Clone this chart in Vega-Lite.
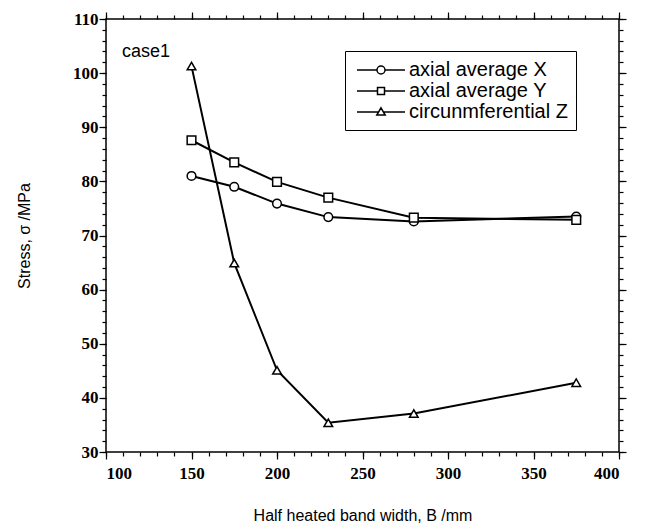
{
  "$schema": "https://vega.github.io/schema/vega-lite/v6.json",
  "width": 513,
  "height": 433,
  "autosize": {"type": "none"},
  "padding": {"left": 106, "top": 19, "right": 28, "bottom": 75},
  "background": "white",
  "config": {
    "view": {"stroke": "black", "strokeWidth": 1.5},
    "font": "Liberation Sans",
    "axis": {
      "domain": false,
      "ticks": true,
      "tickColor": "black",
      "tickWidth": 1.2,
      "grid": false,
      "labelColor": "black",
      "titleColor": "black",
      "labelFont": "Liberation Sans Narrow",
      "labelFontWeight": "bold",
      "labelFontSize": 17,
      "labelOverlap": false,
      "titleFont": "Liberation Sans",
      "titleFontWeight": "normal",
      "titleFontSize": 16
    }
  },
  "data": {
    "values": [
      {"B": 150, "stress": 81.0, "series": "axial average X"},
      {"B": 175, "stress": 79.0, "series": "axial average X"},
      {"B": 200, "stress": 75.9, "series": "axial average X"},
      {"B": 230, "stress": 73.4, "series": "axial average X"},
      {"B": 280, "stress": 72.6, "series": "axial average X"},
      {"B": 375, "stress": 73.5, "series": "axial average X"},
      {"B": 150, "stress": 87.6, "series": "axial average Y"},
      {"B": 175, "stress": 83.5, "series": "axial average Y"},
      {"B": 200, "stress": 79.9, "series": "axial average Y"},
      {"B": 230, "stress": 77.0, "series": "axial average Y"},
      {"B": 280, "stress": 73.3, "series": "axial average Y"},
      {"B": 375, "stress": 72.9, "series": "axial average Y"},
      {"B": 150, "stress": 101.3, "series": "circunmferential Z"},
      {"B": 175, "stress": 64.9, "series": "circunmferential Z"},
      {"B": 200, "stress": 45.1, "series": "circunmferential Z"},
      {"B": 230, "stress": 35.4, "series": "circunmferential Z"},
      {"B": 280, "stress": 37.1, "series": "circunmferential Z"},
      {"B": 375, "stress": 42.8, "series": "circunmferential Z"}
    ]
  },
  "layer": [
    {
      "mark": {"type": "line", "color": "black", "strokeWidth": 2},
      "encoding": {
        "x": {
          "field": "B", "type": "quantitative",
          "scale": {"domain": [100, 400], "nice": false, "zero": false},
          "axis": {
            "orient": "bottom",
            "values": [100, 150, 200, 250, 300, 350, 400],
            "tickSize": 7,
            "labelPadding": 6,
            "title": "Half heated band width, B /mm",
            "titlePadding": 26
          }
        },
        "y": {
          "field": "stress", "type": "quantitative",
          "scale": {"domain": [30, 110], "nice": false, "zero": false},
          "axis": {
            "orient": "left",
            "values": [30, 40, 50, 60, 70, 80, 90, 100, 110],
            "tickSize": 7,
            "labelPadding": 1,
            "title": "Stress, σ /MPa",
            "titlePadding": 40
          }
        },
        "detail": {"field": "series"}
      }
    },
    {
      "mark": {"type": "point", "filled": true, "fill": "white", "stroke": "black", "strokeWidth": 1.5, "opacity": 1, "size": 75},
      "encoding": {
        "x": {
          "field": "B", "type": "quantitative",
          "axis": {"orient": "top", "values": [100, 150, 200, 250, 300, 350, 400], "tickSize": 7, "labels": false, "title": null}
        },
        "y": {
          "field": "stress", "type": "quantitative",
          "axis": {"orient": "right", "values": [30, 40, 50, 60, 70, 80, 90, 100, 110], "tickSize": 7, "labels": false, "title": null}
        },
        "shape": {
          "field": "series", "type": "nominal",
          "scale": {"domain": ["axial average X", "axial average Y", "circunmferential Z"], "range": ["circle", "square", "triangle-up"]},
          "legend": null
        }
      }
    },
    {
      "data": {"values": [{"label": "case1"}]},
      "mark": {"type": "text", "align": "left", "baseline": "alphabetic", "fontSize": 18, "font": "Liberation Sans", "color": "black"},
      "encoding": {
        "text": {"field": "label"},
        "x": {
          "datum": 109.4, "type": "quantitative",
          "axis": {"orient": "bottom", "values": [100,110,120,130,140,150,160,170,180,190,200,210,220,230,240,250,260,270,280,290,300,310,320,330,340,350,360,370,380,390,400], "tickSize": 4, "labels": false, "title": null}
        },
        "y": {
          "datum": 103, "type": "quantitative",
          "axis": {"orient": "left", "values": [30,32,34,36,38,40,42,44,46,48,50,52,54,56,58,60,62,64,66,68,70,72,74,76,78,80,82,84,86,88,90,92,94,96,98,100,102,104,106,108,110], "tickSize": 4, "labels": false, "title": null}
        }
      }
    },
    {
      "transform": [{"filter": "false"}],
      "mark": {"type": "point", "filled": false, "stroke": "black", "strokeWidth": 1.5, "opacity": 1},
      "encoding": {
        "x": {
          "field": "B", "type": "quantitative",
          "axis": {"orient": "top", "values": [100,110,120,130,140,150,160,170,180,190,200,210,220,230,240,250,260,270,280,290,300,310,320,330,340,350,360,370,380,390,400], "tickSize": 4, "labels": false, "title": null}
        },
        "y": {
          "field": "stress", "type": "quantitative",
          "axis": {"orient": "right", "values": [30,32,34,36,38,40,42,44,46,48,50,52,54,56,58,60,62,64,66,68,70,72,74,76,78,80,82,84,86,88,90,92,94,96,98,100,102,104,106,108,110], "tickSize": 4, "labels": false, "title": null}
        },
        "shape": {
          "field": "series", "type": "nominal",
          "scale": {
            "domain": ["axial average X", "axial average Y", "circunmferential Z"],
            "range": [
              "M-0.7,0H1.3M2.1,0H4.1M1.3,0A0.4,0.4 0 1,1 2.1,0A0.4,0.4 0 1,1 1.3,0",
              "M-0.7,0H1.35M2.05,0H4.1M1.35,-0.35H2.05V0.35H1.35Z",
              "M-0.7,0H1.455M1.945,0H4.1M1.7,-0.42L2.12,0.3H1.28Z"
            ]
          },
          "legend": {
            "title": null,
            "orient": "none",
            "legendX": 239,
            "legendY": 32,
            "strokeColor": "black",
            "fillColor": "white",
            "padding": 8,
            "rowPadding": 0,
            "symbolSize": 400,
            "symbolStrokeColor": "black",
            "symbolStrokeWidth": 1.5,
            "symbolOpacity": 1,
            "labelOffset": 34,
            "labelFont": "Liberation Sans",
            "labelFontSize": 20,
            "labelColor": "black"
          }
        }
      }
    }
  ],
  "resolve": {
    "axis": {"x": "independent", "y": "independent"},
    "scale": {"shape": "independent"}
  }
}
